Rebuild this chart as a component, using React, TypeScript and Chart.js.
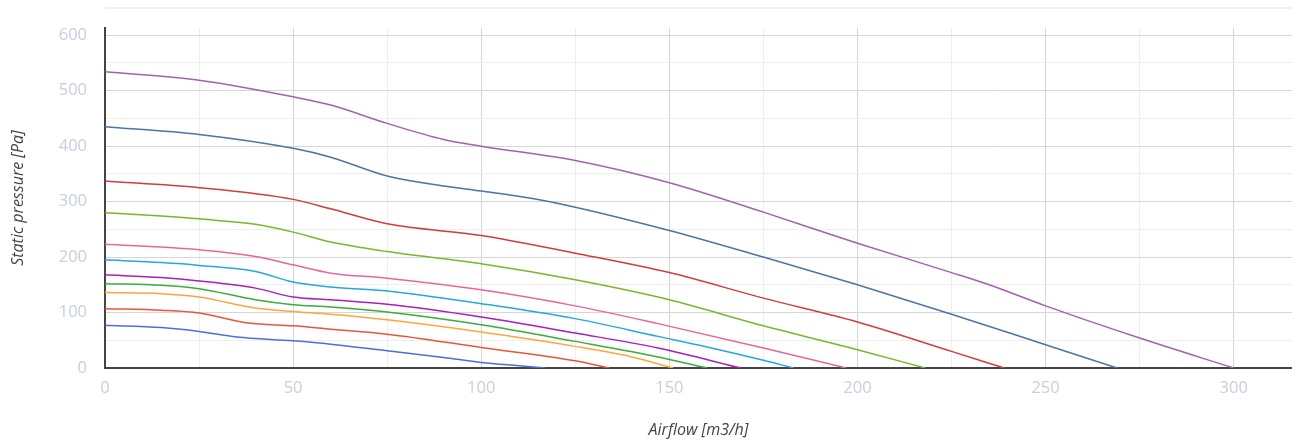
import React, { useEffect, useRef } from 'react';
import { Chart, registerables } from 'chart.js';

Chart.register(...registerables);

// Fan curves: airflow [m3/h] vs static pressure [Pa]
const flow1 = [0, 15, 25, 35, 50, 60, 75, 90, 100, 110, 117];
const pressure1 = [77, 73, 66, 56, 49, 43, 31, 19, 10, 4, 0];

const flow2 = [0, 15, 25, 38, 50, 60, 75, 100, 125, 134];
const pressure2 = [107, 104, 99, 81, 76, 70, 61, 37, 13, 0];

const flow3 = [0, 15, 25, 40, 50, 60, 75, 100, 125, 140, 151];
const pressure3 = [136, 134, 128, 108, 102, 97, 87, 65, 39, 20, 0];

const flow4 = [0, 15, 25, 40, 50, 60, 75, 100, 125, 147, 160];
const pressure4 = [152, 149, 143, 123, 114, 110, 101, 78, 48, 20, 0];

const flow5 = [0, 15, 25, 40, 50, 60, 75, 100, 125, 147, 169];
const pressure5 = [168, 163, 157, 144, 128, 123, 115, 92, 63, 36, 0];

const flow6 = [0, 15, 25, 40, 50, 60, 75, 100, 125, 147, 160, 175, 183];
const pressure6 = [195, 190, 185, 174, 155, 146, 139, 116, 89, 57, 38, 14, 0];

const flow7 = [0, 15, 25, 40, 50, 60, 75, 100, 125, 147, 175, 197];
const pressure7 = [223, 218, 213, 201, 186, 171, 162, 141, 112, 80, 36, 0];

const flow8 = [0, 15, 25, 40, 50, 60, 75, 100, 125, 150, 175, 200, 218];
const pressure8 = [280, 274, 269, 259, 245, 227, 210, 188, 159, 123, 76, 33, 0];

const flow9 = [0, 25, 50, 60, 75, 100, 125, 150, 175, 200, 225, 239];
const pressure9 = [337, 325, 304, 287, 260, 239, 207, 172, 126, 83, 30, 0];

const flow10 = [0, 25, 50, 60, 75, 90, 100, 114, 125, 150, 175, 200, 225, 250, 269];
const pressure10 = [435, 421, 396, 380, 346, 328, 319, 305, 290, 248, 200, 150, 97, 42, 0];

const flow11 = [0, 25, 50, 60, 75, 90, 100, 125, 150, 175, 200, 225, 235, 250, 275, 300];
const pressure11 = [534, 519, 489, 474, 441, 412, 400, 374, 334, 281, 225, 172, 150, 112, 54, 0];

const flows = [flow1, flow2, flow3, flow4, flow5, flow6, flow7, flow8, flow9, flow10, flow11];
const pressures = [pressure1, pressure2, pressure3, pressure4, pressure5, pressure6, pressure7, pressure8, pressure9, pressure10, pressure11];

const seriesColors = [
  '#4a6fdc', '#e8553c', '#ffa53a', '#3cab3c', '#a820b8', '#22aad8',
  '#e8669a', '#7ab62c', '#cf3d3d', '#4a75a5', '#a85db4',
];

// Gridline positions (major + minor) and the values that carry labels
const xGridValues = [0, 25, 50, 75, 100, 125, 150, 175, 200, 225, 250, 275, 300];
const yGridValues = [0, 50, 100, 150, 200, 250, 300, 350, 400, 450, 500, 550, 600];
const xLabelValues = [0, 50, 100, 150, 200, 250, 300];
const yLabelValues = [0, 100, 200, 300, 400, 500, 600];

const X_MAX = 315.5;
const Y_MAX = 613;

const FONT = "'Open Sans', 'DejaVu Sans', sans-serif";
const TICK_COLOR = '#c8cee0';
const MAJOR_GRID = '#d6d6d6';
const MINOR_GRID = '#eeeeee';
const CLEAR = 'rgba(0,0,0,0)';

const topRule = {
  id: 'topRule',
  beforeDraw(chart: any) {
    const { ctx, chartArea } = chart;
    ctx.save();
    ctx.strokeStyle = '#f0f0f0';
    ctx.lineWidth = 2;
    ctx.beginPath();
    ctx.moveTo(chartArea.left, 8);
    ctx.lineTo(chart.width, 8);
    ctx.stroke();
    ctx.restore();
  },
};

export default function App() {
  const canvasRef = useRef<HTMLCanvasElement | null>(null);

  useEffect(() => {
    document.body.style.margin = '0';
    const canvas = canvasRef.current;
    if (!canvas) return;

    const datasets = flows.map((fx, i) => ({
      label: `Curve ${i + 1}`,
      data: fx.map((x, j) => ({ x, y: pressures[i][j] })),
      borderColor: seriesColors[i],
      backgroundColor: seriesColors[i],
      borderWidth: 1.5,
      pointRadius: 0,
      fill: false,
      cubicInterpolationMode: 'monotone' as const,
    }));

    const chart = new Chart(canvas, {
      type: 'line',
      data: { datasets },
      plugins: [topRule],
      options: {
        animation: false,
        responsive: false,
        layout: { padding: { top: 28, right: 0, left: 0, bottom: 0 } },
        plugins: {
          legend: { display: false },
          tooltip: { enabled: false },
        },
        scales: {
          x: {
            type: 'linear',
            min: 0,
            max: X_MAX,
            afterBuildTicks: (scale: any) => {
              scale.ticks = xGridValues.map((value) => ({ value }));
            },
            afterFit: (scale: any) => { scale.height = 79; },
            border: { display: true, color: '#444444', width: 2 },
            grid: {
              drawTicks: true,
              tickLength: 10,
              tickColor: CLEAR,
              color: (ctx: any) => {
                const v = ctx.tick ? ctx.tick.value : 0;
                return xLabelValues.includes(v) ? MAJOR_GRID : MINOR_GRID;
              },
            },
            ticks: {
              autoSkip: false,
              maxRotation: 0,
              padding: 0,
              color: TICK_COLOR,
              font: { family: FONT, size: 16.5 },
              callback: (v: any) => (xLabelValues.includes(Number(v)) ? String(v) : ''),
            },
            title: {
              display: true,
              text: 'Airflow [m3/h]',
              color: '#444444',
              font: { family: FONT, size: 16, style: 'italic' },
              padding: { top: 0, bottom: 7 },
            },
          },
          y: {
            type: 'linear',
            min: 0,
            max: Y_MAX,
            afterBuildTicks: (scale: any) => {
              scale.ticks = yGridValues.map((value) => ({ value }));
            },
            afterFit: (scale: any) => { scale.width = 105; },
            border: { display: true, color: '#444444', width: 2 },
            grid: {
              drawTicks: true,
              tickLength: 18,
              tickColor: CLEAR,
              color: (ctx: any) => {
                const v = ctx.tick ? ctx.tick.value : 0;
                return yLabelValues.includes(v) ? MAJOR_GRID : MINOR_GRID;
              },
            },
            ticks: {
              autoSkip: false,
              padding: 0,
              color: TICK_COLOR,
              font: { family: FONT, size: 16.5 },
              callback: (v: any) => (yLabelValues.includes(Number(v)) ? String(v) : ''),
            },
            title: {
              display: true,
              text: 'Static pressure [Pa]',
              color: '#444444',
              font: { family: FONT, size: 16, style: 'italic' },
              padding: { top: 9, bottom: 0 },
            },
          },
        },
      },
    });

    return () => chart.destroy();
  }, []);

  return (
    <div style={{ width: 1292, height: 447 }}>
      <canvas ref={canvasRef} width={1292} height={447} style={{ display: 'block' }} />
    </div>
  );
}
